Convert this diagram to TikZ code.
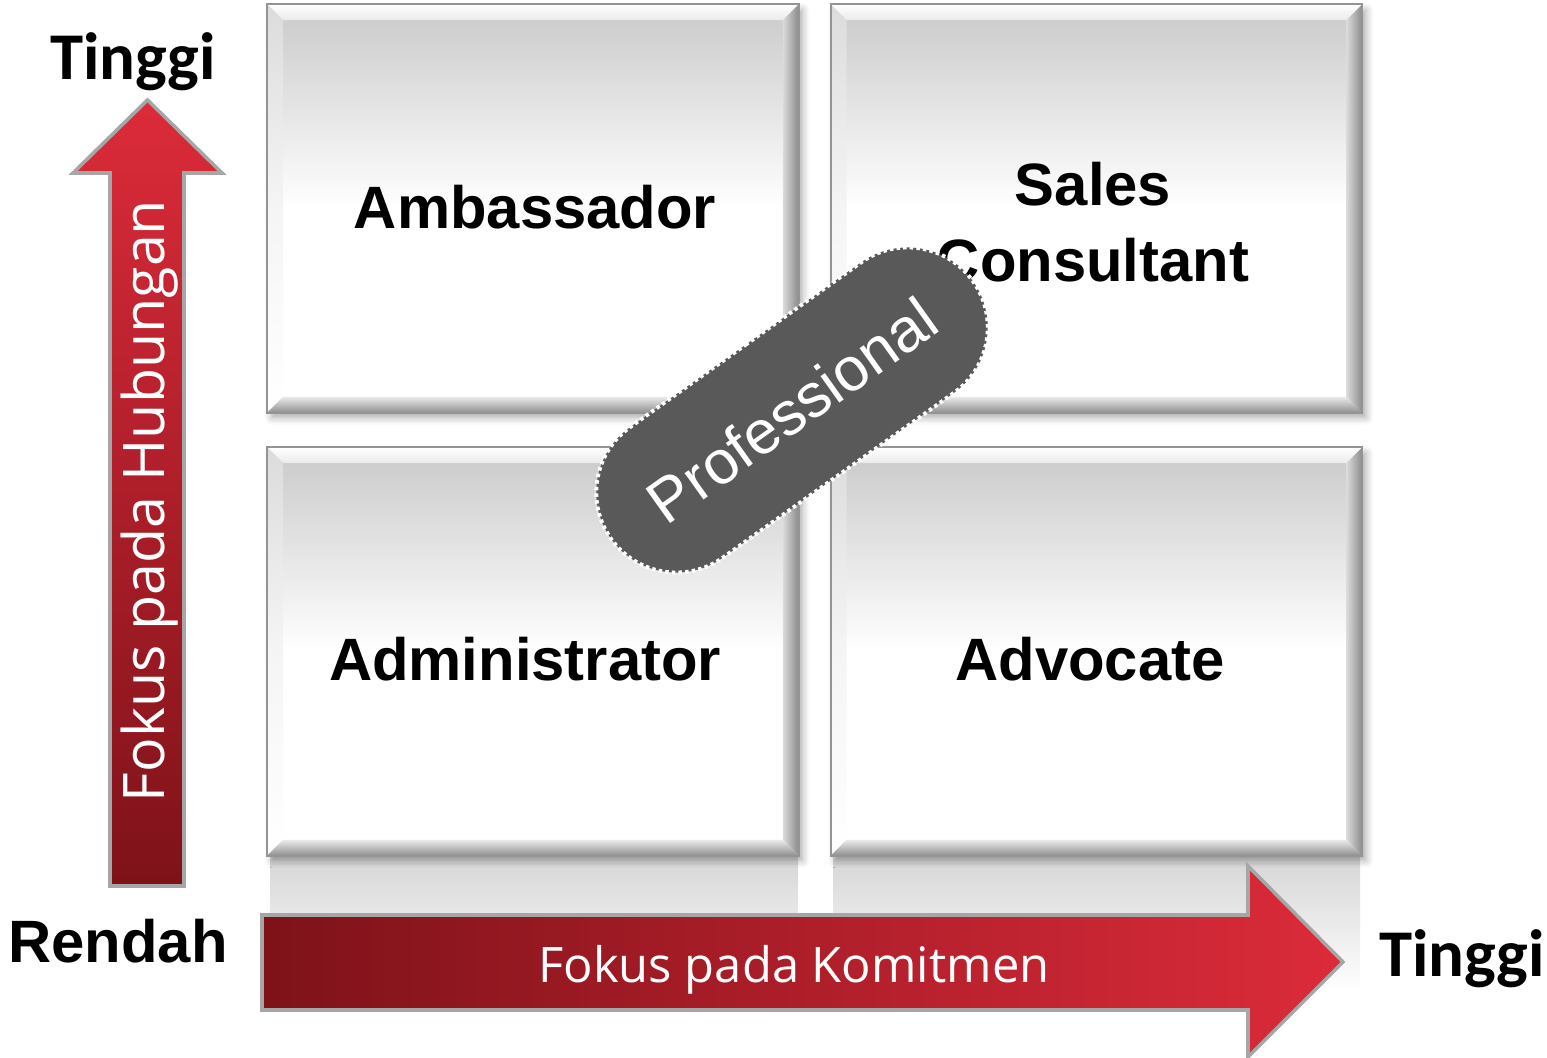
\documentclass[tikz,border=0pt]{standalone}
\usepackage{fontspec}
\setmainfont{Liberation Sans}
\newfontfamily\calibrifont{Carlito}
\newfontfamily\axisfont{Open Sans}
\usepackage{tikz}
\usetikzlibrary{calc,positioning,shapes.misc,shadows.blur}
\definecolor{RedDark}{HTML}{7E1219}
\definecolor{RedLight}{HTML}{DC2B3A}
\definecolor{PillGray}{HTML}{595959}
\definecolor{EdgeGray}{HTML}{A6A6A6}

\newcommand\bevw{0.16cm}
\newcommand\quadfont{\fontsize{17}{21.8}\selectfont\bfseries}
% bevel strips round a quadrant box
\newcommand\bevelquad[1]{%
  \shade[top color=white, bottom color=black!8]
    (#1.north west) -- (#1.north east) -- ($(#1.north east)+(-\bevw,-\bevw)$)
    -- ($(#1.north west)+(\bevw,-\bevw)$) -- cycle;
  \shade[top color=black!14, bottom color=white, middle color=white!96!black]
    (#1.north west) -- ($(#1.north west)+(\bevw,-\bevw)$)
    -- ($(#1.south west)+(\bevw,\bevw)$) -- (#1.south west) -- cycle;
  \shade[left color=black!14, right color=black!46]
    (#1.north east) -- (#1.south east) -- ($(#1.south east)+(-\bevw,\bevw)$)
    -- ($(#1.north east)+(-\bevw,-\bevw)$) -- cycle;
  \shade[top color=black!8, bottom color=black!44]
    (#1.south west) -- ($(#1.south west)+(\bevw,\bevw)$)
    -- ($(#1.south east)+(-\bevw,\bevw)$) -- (#1.south east) -- cycle;
  \draw[black!42,line width=.5pt] (#1.north west) rectangle (#1.south east);
}

\tikzset{
  quad/.style={rectangle,inner sep=0pt,minimum width=5.3cm,minimum height=4.07cm,
    top color=black!21,bottom color=white,middle color=white,
    blur shadow={shadow xshift=1.2pt,shadow yshift=-1.5pt,shadow blur steps=6,shadow opacity=35}},
  quadlabel/.style={font=\quadfont,align=center,inner sep=0pt},
  axisarrow/.style={draw=EdgeGray,line width=1pt,line join=miter},
  endlabel/.style={font=\calibrifont\fontsize{19}{22}\selectfont\bfseries,anchor=base,inner sep=0pt},
  axislabel/.style={font=\axisfont,text=white,anchor=base,inner sep=0pt},
  pill/.style={rounded rectangle,minimum width=4.44cm,minimum height=1.6cm,inner sep=0pt,
    fill=PillGray,draw=white,line width=1.1pt,dash pattern=on 1pt off .9pt,
    text=white,font=\fontsize{17.5}{20}\selectfont}
}

\begin{document}
\begin{tikzpicture}[x=0.01cm,y=-0.01cm]
  \useasboundingbox (0,0) rectangle (1547,1058);

  % soft reflection under the lower row
  \shade[top color=black!16,bottom color=white] (270,857) rectangle (798,992);
  \shade[top color=black!16,bottom color=white] (833,857) rectangle (1360,992);

  % the four quadrants
  \node[quad] (qa) at (533,208.5) {};
  \node[quad] (qb) at (1096.5,208.5) {};
  \node[quad] (qc) at (533,651.5) {};
  \node[quad] (qd) at (1096.5,651.5) {};
  \bevelquad{qa}
  \bevelquad{qb}
  \bevelquad{qc}
  \bevelquad{qd}

  \node[quadlabel] (amb) at (535,207) {Ambassador};
  \node[quadlabel] (sales) at (1093,222) {Sales\\Consultant};
  \node[quadlabel] (admin) at (525,659) {Administrator};
  \node[quadlabel] (advo) at (1090,659) {Advocate};

  % axis arrows
  \shade[axisarrow,bottom color=RedDark,top color=RedLight]
    (110,886) -- (110,173) -- (73,173) -- (147.5,100) -- (222,173) -- (184,173) -- (184,886) -- cycle;
  \shade[axisarrow,left color=RedDark,right color=RedLight]
    (262,915) -- (1248,915) -- (1248,866) -- (1343,962) -- (1248,1057) -- (1248,1010) -- (262,1010) -- cycle;

  \node[axislabel,rotate=90,font=\axisfont\fontsize{16.3}{19}\selectfont] (hub) at (164,501) {Fokus pada Hubungan};
  \node[axislabel,font=\axisfont\fontsize{13.9}{16}\selectfont] (kom) at (794,983) {Fokus pada Komitmen};

  \node[endlabel] (tinggiy) at (133,80) {Tinggi};
  \node[endlabel] (tinggix) at (1462,977) {Tinggi};
  \node[anchor=base,inner sep=0pt,font=\quadfont] (rendah) at (118,963) {Rendah};

  % overlapping badge
  \node[pill,rotate=35.5] (prof) at (792,410) {Professional};
\end{tikzpicture}
\end{document}
